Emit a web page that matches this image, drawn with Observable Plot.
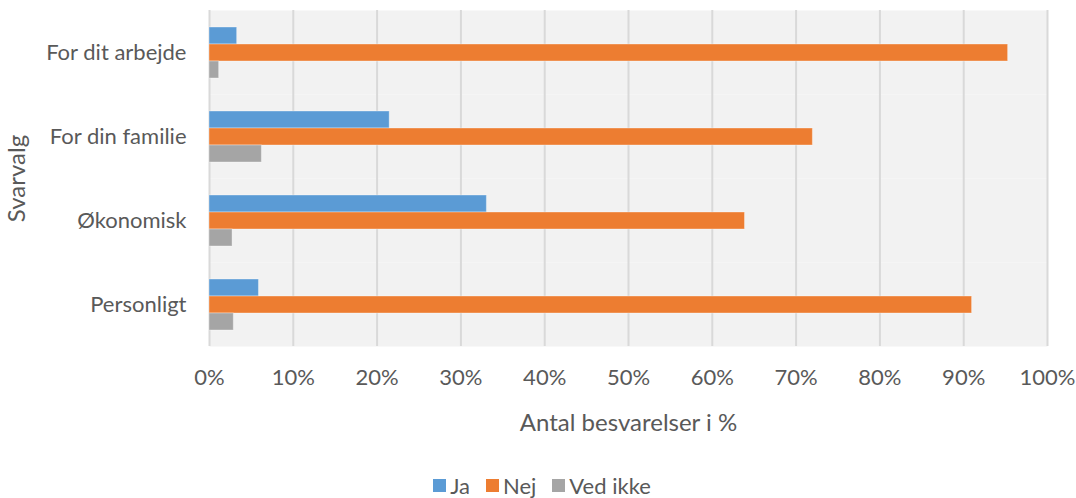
<!DOCTYPE html>
<html>
<head>
<meta charset="utf-8">
<script src="https://cdn.jsdelivr.net/npm/d3@7"></script>
<script src="https://cdn.jsdelivr.net/npm/@observablehq/plot@0.6"></script>
<style>
  html, body { margin: 0; padding: 0; background: #fff; }
  body { width: 1076px; height: 498px; overflow: hidden; font-family: Lato, "Open Sans", sans-serif; color: #595959; }
  #legend { display: flex; justify-content: center; align-items: center; gap: 16px; font-size: 22px; height: 30px; margin-top: 4px; margin-left: 8px; }
  #legend .item { display: flex; align-items: center; gap: 4px; }
  #legend .sw { width: 13px; height: 13px; display: inline-block; }
</style>
</head>
<body>
<div id="chart"></div>
<div id="legend"></div>
<script>
const categories = ["For dit arbejde", "For din familie", "Økonomisk", "Personligt"];
const series = ["Ja", "Nej", "Ved ikke"];
const colors = ["#5b9bd5", "#ed7d31", "#a5a5a5"];
const ja = [3.3, 21.5, 33.1, 5.9];
const nej = [95.3, 72.0, 63.9, 91.0];
const vedIkke = [1.15, 6.25, 2.75, 2.9];
const xTicks = [0, 10, 20, 30, 40, 50, 60, 70, 80, 90, 100];

const values = [ja, nej, vedIkke];
const data = [];
categories.forEach((c, i) => {
  series.forEach((s, j) => data.push({category: c, series: s, value: values[j][i]}));
});

const plot = Plot.plot({
  width: 1076,
  height: 466,
  marginLeft: 209,
  marginRight: 29,
  marginTop: 10,
  marginBottom: 120,
  style: {fontFamily: "Lato, 'Open Sans', sans-serif", fontSize: "22px", color: "#595959", background: "#fff"},
  x: {domain: [0, 100]},
  y: {domain: series, paddingInner: 0, paddingOuter: 0.92, axis: null},
  fy: {domain: categories, padding: 0},
  color: {domain: series, range: colors},
  marks: [
    Plot.frame({fill: "#f2f2f2", stroke: null}),
    Plot.gridX(xTicks, {stroke: "#d9d9d9", strokeOpacity: 1, strokeWidth: 2}),
    Plot.barX(data, {x: "value", y: "series", fy: "category", fill: "series", inset: 0, stroke: "#ffffff", strokeOpacity: 0.35, strokeWidth: 1}),
    Plot.axisX(xTicks, {anchor: "bottom", tickSize: 0, tickPadding: 23, fontSize: 22, tickFormat: d => d + "%", label: null}),
    Plot.axisX([], {anchor: "bottom", tickSize: 0, fontSize: 24,
      label: "Antal besvarelser i %", labelAnchor: "center", labelArrow: "none", labelOffset: 84}),
    Plot.axisFy({anchor: "left", tickSize: 0, tickPadding: 23, fontSize: 22, label: null}),
    Plot.axisFy([], {anchor: "left", tickSize: 0, fontSize: 24,
      label: "Svarvalg", labelAnchor: "center", labelArrow: "none", labelOffset: 202})
  ]
});
document.getElementById("chart").appendChild(plot);

const legend = document.getElementById("legend");
series.forEach((s, j) => {
  const item = document.createElement("span");
  item.className = "item";
  const sw = document.createElement("span");
  sw.className = "sw";
  sw.style.background = colors[j];
  item.appendChild(sw);
  item.appendChild(document.createTextNode(s));
  legend.appendChild(item);
});
</script>
</body>
</html>
